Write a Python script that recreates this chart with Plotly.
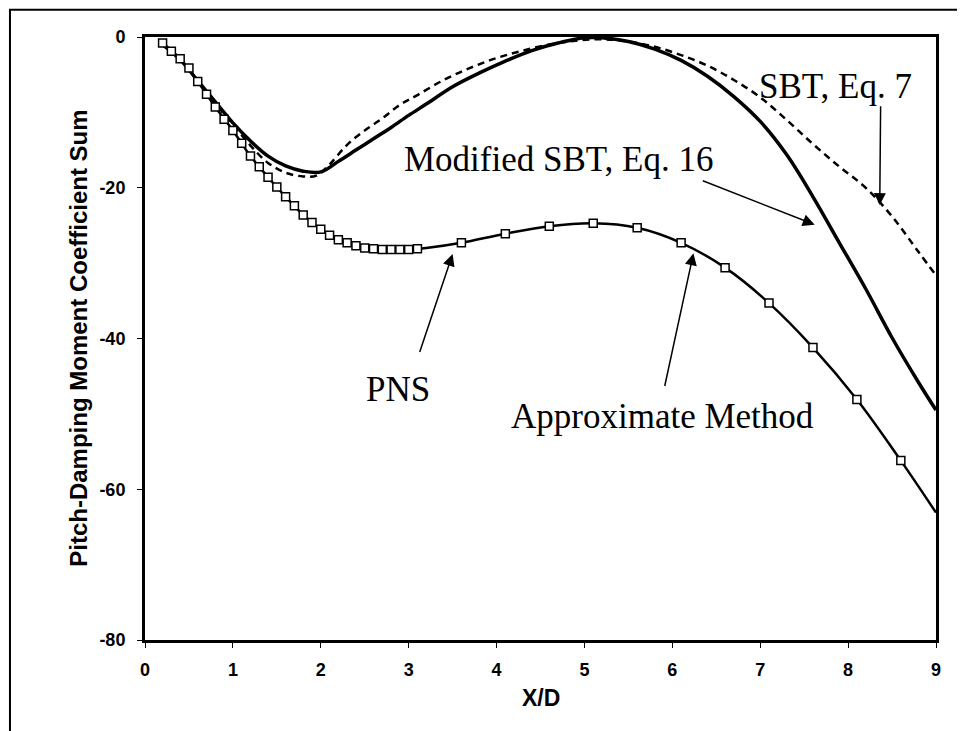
import plotly.graph_objects as go

# PNS solution (square symbols)
pns_x = [0.2, 0.3, 0.4, 0.5, 0.6, 0.7, 0.8, 0.9, 1.0, 1.1, 1.2, 1.3, 1.4, 1.5, 1.6,
         1.7, 1.8, 1.9, 2.0, 2.1, 2.2, 2.3, 2.4, 2.5, 2.6, 2.7, 2.8, 2.9, 3.0, 3.1,
         3.6, 4.1, 4.6, 5.1, 5.6, 6.1, 6.6, 7.1, 7.6, 8.1, 8.6]
pns_y = [-0.8, -1.9, -2.9, -4.1, -5.9, -7.6, -9.3, -10.9, -12.4, -14.1, -15.8, -17.2, -18.6, -19.9, -21.2,
         -22.4, -23.6, -24.6, -25.5, -26.3, -26.9, -27.3, -27.7, -28.0, -28.1, -28.2, -28.2, -28.2, -28.2, -28.1,
         -27.3, -26.1, -25.1, -24.7, -25.3, -27.3, -30.6, -35.3, -41.2, -48.1, -56.2]

# Approximate method (solid line)
approx_x = [0.2, 0.4, 0.6, 0.8, 1.0, 1.2, 1.4, 1.6, 1.8, 2.0, 2.2, 2.4, 2.6, 2.8, 3.0, 3.2,
            3.6, 4.1, 4.6, 5.1, 5.6, 6.1, 6.6, 7.1, 7.6, 8.1, 8.6, 9.0]
approx_y = [-0.8, -2.9, -5.9, -9.3, -12.4, -15.8, -18.6, -21.2, -23.6, -25.5, -26.9, -27.7, -28.1, -28.2, -28.2, -28.0,
            -27.3, -26.1, -25.1, -24.7, -25.3, -27.3, -30.6, -35.3, -41.2, -48.1, -56.2, -63.1]

# Modified SBT, Eq. 16 (thick solid)
msbt_x = [0.2, 0.4, 0.6, 0.8, 1.0, 1.2, 1.4, 1.6, 1.8, 2.0, 2.2, 2.4, 2.6, 2.8, 3.0, 3.2, 3.5, 3.8,
          4.1, 4.4, 4.7, 5.0, 5.2, 5.5, 5.8, 6.1, 6.4, 6.7, 7.0, 7.3, 7.6, 7.9, 8.2, 8.5, 8.8, 9.0]
msbt_y = [-1.0, -3.0, -5.8, -8.6, -11.4, -13.8, -15.8, -17.1, -17.8, -17.9, -16.5, -15.0, -13.5, -12.0, -10.4, -8.9, -6.6, -4.8,
          -3.2, -1.8, -0.8, -0.1, -0.1, -0.6, -1.6, -3.1, -5.2, -7.9, -11.2, -15.6, -21.2, -27.3, -33.4, -39.9, -45.8, -49.5]

# SBT, Eq. 7 (dashed)
sbt_x = [0.2, 0.4, 0.6, 0.8, 1.0, 1.2, 1.4, 1.6, 1.8, 1.95, 2.1, 2.3, 2.5, 2.7, 2.9, 3.1, 3.4, 3.7,
         4.0, 4.3, 4.6, 4.9, 5.2, 5.5, 5.8, 6.1, 6.4, 6.7, 7.0, 7.3, 7.6, 7.9, 8.2, 8.5, 8.8, 9.0]
sbt_y = [-1.0, -3.0, -5.8, -8.8, -11.6, -14.4, -16.7, -18.0, -18.5, -18.4, -16.9, -14.3, -12.4, -10.8, -9.0, -7.7, -5.7, -4.1,
         -2.8, -1.8, -1.0, -0.5, -0.3, -0.6, -1.3, -2.4, -3.8, -5.7, -8.0, -11.0, -14.2, -17.2, -20.0, -23.8, -28.5, -31.6]

x_ticks = [0, 1, 2, 3, 4, 5, 6, 7, 8, 9]
y_ticks = [0, -20, -40, -60, -80]
y_tick_text = ["0", "-20", "-40", "-60", "-80"]

serif = "Liberation Serif, Times New Roman, serif"
sans = "Liberation Sans, Arial, sans-serif"

fig = go.Figure()
fig.add_trace(go.Scatter(x=sbt_x, y=sbt_y, mode="lines", line_shape="spline",
                         line=dict(color="black", width=2.5, dash="7px,5px"), name="SBT, Eq. 7"))
fig.add_trace(go.Scatter(x=msbt_x, y=msbt_y, mode="lines", line_shape="spline",
                         line=dict(color="black", width=3.5), name="Modified SBT, Eq. 16"))
fig.add_trace(go.Scatter(x=approx_x, y=approx_y, mode="lines", line_shape="spline",
                         line=dict(color="black", width=2.5), name="Approximate Method"))
fig.add_trace(go.Scatter(x=pns_x, y=pns_y, mode="markers",
                         marker=dict(symbol="square", size=8, color="white",
                                     line=dict(color="black", width=1.5)), name="PNS"))

# labels with arrows: text, text x/y, arrow tail x/y, arrow head x/y
labels = [
    ("SBT, Eq. 7", 7.86, -6.6, 8.37, -9.0, 8.36, -22.3),
    ("Modified SBT, Eq. 16", 4.70, -16.3, 6.33, -19.0, 7.62, -24.9),
    ("PNS", 2.88, -46.8, 3.12, -42.0, 3.5, -28.8),
    ("Approximate Method", 5.89, -50.3, 5.91, -46.5, 6.24, -28.7),
]
for text, tx, ty, x0, y0, x1, y1 in labels:
    fig.add_annotation(x=tx, y=ty, text=text, showarrow=False, xref="x", yref="y",
                       font=dict(family=serif, size=35, color="black"))
    fig.add_annotation(x=x1, y=y1, ax=x0, ay=y0, xref="x", yref="y", axref="x", ayref="y",
                       text="", showarrow=True, arrowhead=2, arrowsize=1.6, arrowwidth=1.5,
                       arrowcolor="black")

# axis titles
fig.add_annotation(x=0.5, y=-0.121, xref="paper", yref="paper", text="<b>X/D</b>", showarrow=False,
                   font=dict(family=sans, size=23, color="black"))
fig.add_annotation(x=-0.104, y=0.5, xref="paper", yref="paper", textangle=-90,
                   text="<b>Pitch-Damping Moment Coefficient Sum</b>", showarrow=False,
                   font=dict(family=sans, size=24, color="black"))

# outer page frame
fig.add_shape(type="rect", xref="paper", yref="paper", x0=-0.1707, x1=1.043, y0=-0.158, y1=1.045,
              line=dict(color="black", width=2))

fig.update_layout(
    width=965, height=731,
    margin=dict(l=137, r=37, t=29, b=99),
    plot_bgcolor="white", paper_bgcolor="white",
    showlegend=False,
    xaxis=dict(range=[0, 9], tickvals=x_ticks, showgrid=False, zeroline=False,
               showline=True, linecolor="black", linewidth=3, mirror=True,
               ticks="outside", ticklen=5, tickcolor="black", ticklabelstandoff=6,
               tickfont=dict(family=sans, size=18, color="black", weight="bold")),
    yaxis=dict(range=[-80, 0], tickvals=y_ticks, ticktext=y_tick_text, showgrid=False, zeroline=False,
               showline=True, linecolor="black", linewidth=3, mirror=True,
               ticks="outside", ticklen=5, tickcolor="black", ticklabelstandoff=8,
               tickfont=dict(family=sans, size=18, color="black", weight="bold")),
)

fig.write_html("out.html")
